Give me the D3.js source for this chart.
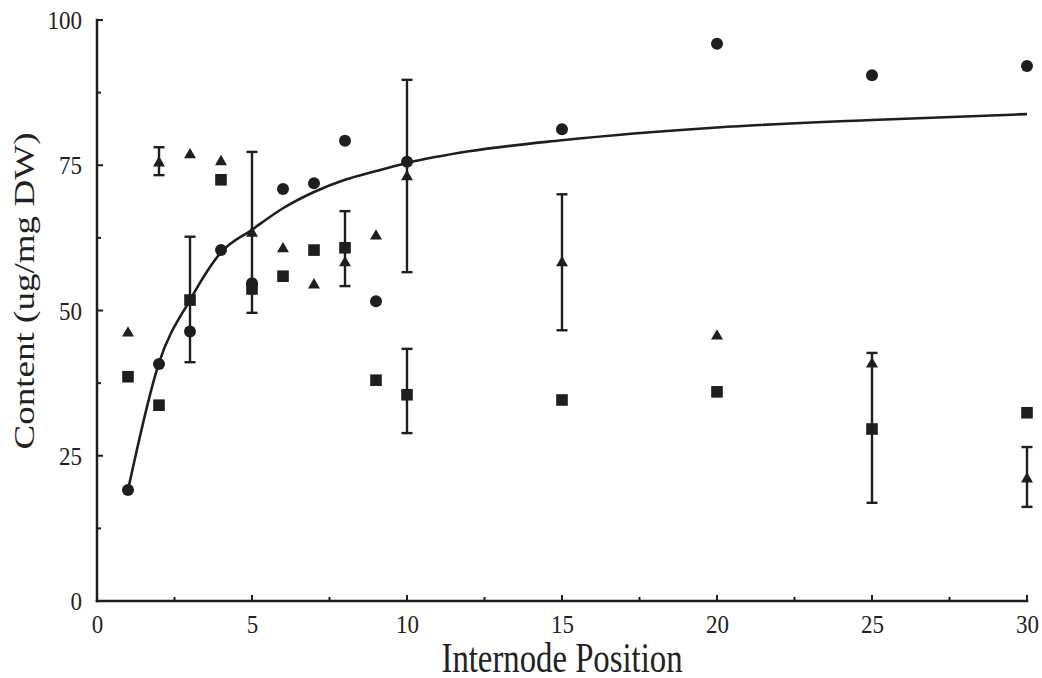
<!DOCTYPE html>
<html>
<head>
<meta charset="utf-8">
<script src="https://cdn.jsdelivr.net/npm/d3@7/dist/d3.min.js"></script>
<style>
  html, body { margin: 0; padding: 0; background: #fff; }
  svg { display: block; }
  text { font-family: "Liberation Serif", "DejaVu Serif", serif; fill: #222; }
</style>
</head>
<body>
<svg id="chart" width="1042" height="678"></svg>
<script>
// ---- data ----
const positions = [1, 2, 3, 4, 5, 6, 7, 8, 9, 10, 15, 20, 25, 30];
const circleValues   = [19.1, 40.8, 46.4, 60.4, 54.7, 70.9, 71.9, 79.2, 51.6, 75.6, 81.2, 95.9, 90.5, 92.1];
const squareValues   = [38.6, 33.7, 51.8, 72.5, 53.7, 55.9, 60.4, 60.8, 38.0, 35.5, 34.6, 36.0, 29.6, 32.4];
const triangleValues = [46.1, 75.4, 76.8, 75.6, 63.3, 60.6, 54.4, 58.2, 62.8, 73.0, 58.2, 45.6, 40.8, 21.0];

const errorX    = [2, 3, 5, 8, 10, 10, 15, 25, 30];
const errorLow  = [73.3, 41.1, 49.6, 54.2, 56.6, 28.9, 46.6, 16.9, 16.2];
const errorHigh = [78.1, 62.7, 77.3, 67.1, 89.7, 43.4, 70.0, 42.7, 26.5];

const curveX = [1, 2, 3, 4, 5, 6, 7, 8, 9, 10, 12, 15, 20, 25, 30];
const curveY = [19.1, 41.0, 51.8, 60.0, 63.9, 67.6, 70.4, 72.5, 74.0, 75.4, 77.4, 79.3, 81.5, 82.8, 83.8];

const xTicks = [0, 5, 10, 15, 20, 25, 30];
const yTicks = [0, 25, 50, 75, 100];
const xLabel = "Internode Position";
const yLabel = "Content (ug/mg DW)";

// ---- layout ----
const svg = d3.select("#chart");
const ink = "#1e1e1e";
const x = d3.scaleLinear().domain([0, 30]).range([97, 1027]);
const y = d3.scaleLinear().domain([0, 100]).range([601, 20]);

// axes
const xAxis = d3.axisBottom(x).tickValues(xTicks).tickSize(0).tickPadding(14).tickFormat(d3.format("d"));
const yAxis = d3.axisLeft(y).tickValues(yTicks).tickSize(0).tickPadding(15).tickFormat(d3.format("d"));

const gx = svg.append("g").attr("transform", `translate(0,${y(0)})`).call(xAxis);
const gy = svg.append("g").attr("transform", `translate(${x(0)},0)`).call(yAxis);
[gx, gy].forEach(g => {
  g.select(".domain").remove();
  g.selectAll("text")
    .attr("fill", ink)
    .style("font-family", '"Liberation Serif", serif')
    .style("font-size", "25px")
    .attr("textLength", d => String(d).length * 11.5)
    .attr("lengthAdjust", "spacingAndGlyphs");
});
gx.selectAll("text").attr("dy", "0.71em");
gy.selectAll("text").attr("dy", "0.34em");

// axis lines
svg.append("line").attr("x1", x(0)).attr("x2", x(30)).attr("y1", y(0)).attr("y2", y(0))
  .attr("stroke", ink).attr("stroke-width", 2.5).attr("stroke-linecap", "square");
svg.append("line").attr("x1", x(0)).attr("x2", x(0)).attr("y1", y(0)).attr("y2", y(100))
  .attr("stroke", ink).attr("stroke-width", 2.5).attr("stroke-linecap", "square");

// inward ticks: major + minor
const xMinor = d3.range(0, 30.01, 2.5);
svg.append("g").selectAll("line").data(xMinor).join("line")
  .attr("x1", d => x(d)).attr("x2", d => x(d))
  .attr("y1", y(0)).attr("y2", d => y(0) - (d % 5 === 0 ? 6 : 4))
  .attr("stroke", ink).attr("stroke-width", 2);
const yMinor = d3.range(0, 100.01, 12.5);
svg.append("g").selectAll("line").data(yMinor).join("line")
  .attr("y1", d => y(d)).attr("y2", d => y(d))
  .attr("x1", x(0)).attr("x2", d => x(0) + (d % 25 === 0 ? 6 : 4))
  .attr("stroke", ink).attr("stroke-width", 2);

// axis titles
svg.append("text")
  .attr("x", 562).attr("y", 672)
  .attr("text-anchor", "middle")
  .style("font-size", "43px")
  .attr("textLength", 241).attr("lengthAdjust", "spacingAndGlyphs")
  .attr("fill", ink)
  .text(xLabel);
svg.append("text")
  .attr("transform", `translate(34,291) rotate(-90)`)
  .attr("text-anchor", "middle")
  .style("font-size", "30px")
  .attr("textLength", 317).attr("lengthAdjust", "spacingAndGlyphs")
  .attr("fill", ink)
  .text(yLabel);

// fitted curve
const curvePts = curveX.map((d, i) => [d, curveY[i]]);
svg.append("path")
  .datum(curvePts)
  .attr("fill", "none").attr("stroke", ink).attr("stroke-width", 2.6)
  .attr("d", d3.line().x(d => x(d[0])).y(d => y(d[1])).curve(d3.curveMonotoneX));

// error bars
const errs = errorX.map((d, i) => ({ x: d, lo: errorLow[i], hi: errorHigh[i] }));
const eg = svg.append("g").attr("stroke", ink).attr("stroke-width", 2.4);
eg.selectAll("line.v").data(errs).join("line").attr("class", "v")
  .attr("x1", d => x(d.x)).attr("x2", d => x(d.x))
  .attr("y1", d => y(d.lo)).attr("y2", d => y(d.hi));
eg.selectAll("line.t").data(errs).join("line").attr("class", "t")
  .attr("x1", d => x(d.x) - 5.5).attr("x2", d => x(d.x) + 5.5)
  .attr("y1", d => y(d.hi)).attr("y2", d => y(d.hi));
eg.selectAll("line.b").data(errs).join("line").attr("class", "b")
  .attr("x1", d => x(d.x) - 5.5).attr("x2", d => x(d.x) + 5.5)
  .attr("y1", d => y(d.lo)).attr("y2", d => y(d.lo));

// markers
const pts = (vals) => positions.map((p, i) => ({ x: p, v: vals[i] }));
svg.append("g").selectAll("circle").data(pts(circleValues)).join("circle")
  .attr("cx", d => x(d.x)).attr("cy", d => y(d.v)).attr("r", 6)
  .attr("fill", ink);
svg.append("g").selectAll("rect").data(pts(squareValues)).join("rect")
  .attr("x", d => x(d.x) - 5.8).attr("y", d => y(d.v) - 5.8)
  .attr("width", 11.6).attr("height", 11.6)
  .attr("fill", ink);
const tri = d3.symbol().type(d3.symbolTriangle).size(62);
svg.append("g").selectAll("path").data(pts(triangleValues)).join("path")
  .attr("transform", d => `translate(${x(d.x)},${y(d.v)})`)
  .attr("d", tri)
  .attr("fill", ink);
</script>
</body>
</html>
